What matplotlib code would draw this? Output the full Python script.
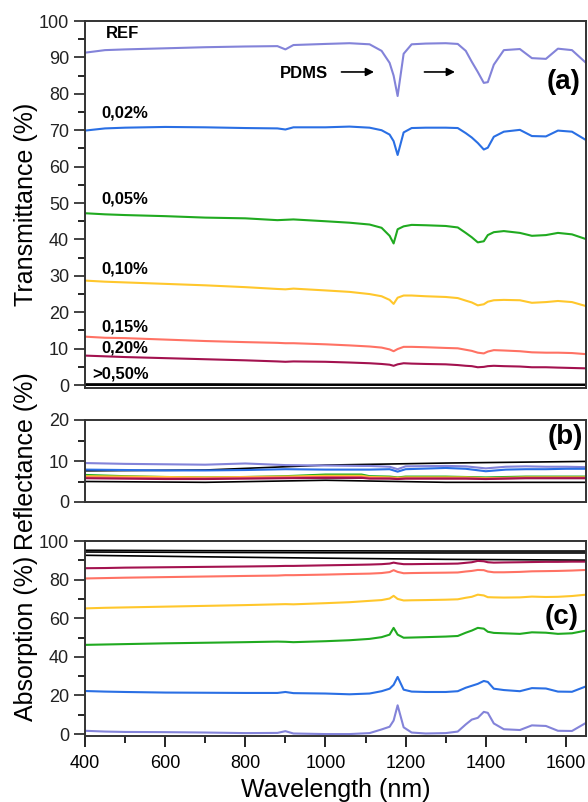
import numpy as np
import matplotlib
matplotlib.use("Agg")
import matplotlib.pyplot as plt
from matplotlib.ticker import MultipleLocator

plt.rcParams['font.family'] = ['Liberation Sans', 'DejaVu Sans']

# wavelength grid (nm) for the coloured spectra
wl = [400, 450, 500, 600, 700, 800, 880, 900, 920, 1000, 1060, 1110, 1140, 1160,
      1170, 1180, 1195, 1215, 1250, 1300, 1330, 1350, 1365, 1380, 1395, 1405,
      1420, 1445, 1485, 1515, 1550, 1580, 1615, 1650]

# --- transmittance (%) ---
trans_ref = [91.3, 92.0, 92.2, 92.5, 92.8, 93.0, 93.1, 92.2, 93.4, 93.7, 93.9, 93.6, 91.8, 88.5,
             85.0, 79.4, 91.0, 93.6, 93.8, 93.9, 93.7, 91.8, 88.8, 86.0, 83.0, 83.2,
             88.0, 92.0, 92.3, 89.8, 89.6, 92.4, 92.0, 88.5]
trans_002 = [69.9, 70.5, 70.7, 70.9, 70.8, 70.6, 70.5, 70.2, 70.8, 70.8, 71.0, 70.7, 70.0, 68.8,
             67.0, 63.2, 69.4, 70.6, 70.7, 70.7, 70.6, 69.2, 68.0, 66.5, 64.7, 65.2,
             68.2, 69.6, 70.1, 68.4, 68.3, 69.9, 69.6, 67.3]
trans_005 = [47.2, 46.9, 46.7, 46.4, 46.0, 45.8, 45.3, 45.4, 45.5, 45.0, 44.6, 44.1, 43.2, 41.0,
             38.9, 42.8, 43.6, 44.0, 43.9, 43.7, 43.3, 41.8, 40.6, 39.2, 39.5, 41.2,
             42.0, 42.3, 41.8, 41.0, 41.2, 41.8, 41.4, 40.1]
trans_010 = [28.7, 28.4, 28.2, 27.8, 27.4, 26.9, 26.4, 26.3, 26.5, 26.0, 25.6, 25.0, 24.4, 23.4,
             22.3, 24.0, 24.6, 24.6, 24.4, 24.2, 23.9, 23.2, 22.7, 21.9, 22.2, 22.9,
             23.3, 23.4, 23.3, 22.6, 22.8, 23.1, 22.8, 21.7]
trans_015 = [13.3, 13.0, 12.9, 12.5, 12.1, 11.8, 11.6, 11.5, 11.5, 11.2, 10.9, 10.6, 10.3, 9.8,
             9.3, 9.9, 10.5, 10.5, 10.4, 10.2, 10.1, 9.7, 9.4, 8.9, 8.7, 9.2,
             9.6, 9.5, 9.3, 9.0, 8.9, 8.9, 8.8, 8.5]
trans_020 = [8.1, 7.9, 7.7, 7.4, 7.1, 6.8, 6.5, 6.4, 6.5, 6.4, 6.2, 6.0, 5.8, 5.6,
             5.3, 5.7, 6.0, 5.9, 5.8, 5.7, 5.5, 5.3, 5.2, 4.9, 5.0, 5.2,
             5.3, 5.2, 5.1, 4.9, 4.9, 4.8, 4.7, 4.6]

# --- absorption (%) ---
abs_ref = [1.7, 1.3, 1.1, 1.0, 0.8, 0.5, 0.6, 1.5, 0.3, 0.0, 0.0, 0.5, 2.4, 3.8,
           7.0, 14.9, 3.5, 0.8, 0.3, 0.5, 1.3, 5.0, 7.5, 8.4, 11.5, 11.0,
           5.5, 2.5, 2.1, 4.5, 4.2, 1.7, 1.6, 5.8]
abs_002 = [22.3, 22.0, 21.8, 21.5, 21.4, 21.3, 21.3, 21.8, 21.2, 21.0, 20.6, 21.0, 22.2, 23.5,
           25.5, 29.6, 23.0, 22.0, 21.8, 21.8, 22.2, 24.0, 25.0, 26.0, 27.5, 27.0,
           23.5, 22.8, 22.2, 23.8, 23.6, 22.0, 21.9, 24.7]
abs_005 = [46.2, 46.4, 46.6, 47.0, 47.3, 47.6, 47.9, 47.8, 47.6, 48.1, 48.6, 49.3, 50.2, 51.5,
           55.0, 51.5, 49.9, 50.0, 50.2, 50.5, 50.8, 52.5, 53.6, 55.0, 54.6, 53.0,
           52.4, 52.2, 51.9, 52.7, 52.5, 51.9, 52.2, 53.6]
abs_010 = [65.1, 65.4, 65.6, 66.0, 66.4, 66.8, 67.2, 67.3, 67.2, 67.8, 68.3, 69.0, 69.4, 70.2,
           71.6, 70.0, 69.2, 69.3, 69.4, 69.6, 69.8, 70.6, 71.1, 72.2, 71.8, 70.9,
           70.8, 70.7, 70.8, 71.2, 71.0, 71.1, 71.5, 72.2]
abs_015 = [80.6, 80.8, 81.0, 81.3, 81.6, 81.9, 82.1, 82.3, 82.3, 82.6, 82.9, 83.1, 83.4, 83.9,
           84.9, 84.0, 83.3, 83.4, 83.5, 83.6, 83.7, 84.2, 84.5, 85.0, 84.9, 84.2,
           83.8, 83.8, 84.0, 84.3, 84.4, 84.5, 84.7, 85.0]
abs_020 = [85.9, 86.0, 86.2, 86.4, 86.6, 86.8, 87.0, 87.1, 87.1, 87.4, 87.6, 87.8, 88.0, 88.3,
           88.8, 88.4, 88.0, 88.0, 88.1, 88.2, 88.3, 88.7, 89.0, 89.7, 89.5, 89.0,
           88.8, 88.9, 89.0, 89.1, 89.2, 89.2, 89.3, 89.3]

# --- reflectance (%) on a coarser grid ---
wl_r = [400, 500, 600, 700, 800, 900, 1000, 1090, 1110, 1160, 1180, 1200, 1300, 1350,
        1400, 1450, 1500, 1550, 1600, 1650]
refl_ref = [9.5, 9.3, 9.2, 9.1, 9.4, 9.0, 8.9, 8.8, 8.8, 8.6, 8.0, 8.7, 8.8, 8.7,
            8.2, 8.6, 8.7, 8.6, 8.6, 8.5]
refl_002 = [7.9, 7.8, 7.7, 7.7, 7.8, 8.0, 7.9, 7.9, 7.9, 8.0, 7.4, 8.0, 8.3, 8.1,
            7.5, 7.9, 8.0, 8.0, 8.1, 8.1]
refl_005 = [6.6, 6.3, 6.1, 6.0, 6.1, 6.3, 6.7, 6.7, 6.3, 6.2, 6.0, 6.2, 6.2, 6.1,
            6.0, 6.1, 6.2, 6.2, 6.2, 6.2]
refl_010 = [6.3, 6.2, 6.1, 6.0, 6.1, 6.2, 6.4, 6.4, 6.1, 6.0, 5.9, 6.0, 6.0, 6.0,
            5.8, 5.9, 6.0, 6.0, 6.0, 6.0]
refl_015 = [6.0, 5.9, 5.8, 5.8, 5.9, 6.0, 6.1, 6.1, 5.9, 5.8, 5.7, 5.8, 5.8, 5.8,
            5.7, 5.8, 5.9, 5.9, 5.9, 5.9]
refl_020 = [5.8, 5.7, 5.6, 5.6, 5.7, 5.8, 5.9, 5.9, 5.7, 5.7, 5.6, 5.7, 5.7, 5.7,
            5.6, 5.7, 5.8, 5.8, 5.8, 5.8]

# --- opaque samples (>0,50 %), black lines ---
wl_k = [400, 700, 1000, 1300, 1650]
trans_k = [[0.3, 0.3, 0.2, 0.2, 0.2], [0.1, 0.1, 0.1, 0.1, 0.1], [0.0, 0.0, 0.0, 0.0, 0.0]]
refl_k = [[7.6, 7.8, 9.0, 9.5, 9.9], [6.0, 5.9, 5.9, 5.8, 5.8], [5.0, 4.8, 5.3, 4.8, 4.8]]
abs_k = [[92.6, 91.8, 91.1, 90.5, 90.1], [94.3, 94.1, 93.9, 93.8, 93.8], [95.2, 95.0, 94.9, 94.8, 94.8]]

labels = ["REF", "0,02%", "0,05%", "0,10%", "0,15%", "0,20%"]
colors = ["#8383d9", "#2a6fe4", "#20aa20", "#ffc72c", "#ff7264", "#a3124f"]
label_y = [96.7, 74.7, 51.1, 31.9, 15.9, 10.2]

trans = [trans_ref, trans_002, trans_005, trans_010, trans_015, trans_020]
refl = [refl_ref, refl_002, refl_005, refl_010, refl_015, refl_020]
absn = [abs_ref, abs_002, abs_005, abs_010, abs_015, abs_020]

fig = plt.figure(figsize=(5.88, 8.02), dpi=100)
W, H = 588, 802
ax_t = fig.add_axes([85 / W, 1 - 388 / H, 501 / W, (388 - 21) / H])
ax_r = fig.add_axes([85 / W, 1 - 502 / H, 501 / W, (502 - 420) / H])
ax_a = fig.add_axes([85 / W, 1 - 736 / H, 501 / W, (736 - 541) / H])

lw = 1.5
for k in range(3):
    ax_t.plot(wl_k, trans_k[k], color="black", lw=1.2)
    ax_r.plot(wl_k, refl_k[k], color="black", lw=1.2)
    ax_a.plot(wl_k, abs_k[k], color="black", lw=1.2)

for i in range(6):
    ax_t.plot(wl, trans[i], color=colors[i], lw=lw)
    ax_r.plot(wl_r, refl[i], color=colors[i], lw=lw)
    ax_a.plot(wl, absn[i], color=colors[i], lw=lw)

# sample labels
for i in range(6):
    x0 = 451 if i == 0 else 441
    ax_t.text(x0, label_y[i], labels[i], fontsize=12, fontweight="bold", va="center", ha="left")
ax_t.text(419, 3.0, ">0,50%", fontsize=12, fontweight="bold", va="center", ha="left")

ax_t.text(946, 85.7, "PDMS", fontsize=12, fontweight="bold", va="center", ha="center")
for x_start, x_end in [(1033, 1128), (1240, 1330)]:
    ax_t.annotate("", xy=(x_end, 86), xytext=(x_start, 86),
                  arrowprops=dict(arrowstyle="-|>", color="black", lw=1.2, mutation_scale=12))

ax_t.text(0.99, 0.835, "(a)", transform=ax_t.transAxes, fontsize=20, fontweight="bold",
          ha="right", va="center")
ax_r.text(0.995, 0.79, "(b)", transform=ax_r.transAxes, fontsize=20, fontweight="bold",
          ha="right", va="center")
ax_a.text(0.985, 0.61, "(c)", transform=ax_a.transAxes, fontsize=20, fontweight="bold",
          ha="right", va="center")

ax_t.set_ylim(-0.8, 100)
ax_r.set_ylim(0, 20)
ax_a.set_ylim(-1, 100)
ax_t.yaxis.set_major_locator(MultipleLocator(10))
ax_t.yaxis.set_minor_locator(MultipleLocator(5))
ax_r.yaxis.set_major_locator(MultipleLocator(10))
ax_r.yaxis.set_minor_locator(MultipleLocator(5))
ax_a.yaxis.set_major_locator(MultipleLocator(20))
ax_a.yaxis.set_minor_locator(MultipleLocator(10))

ax_t.set_ylabel("Transmittance (%)", fontsize=18)
ax_r.set_ylabel("Reflectance (%)", fontsize=18)
ax_a.set_ylabel("Absorption (%)", fontsize=18)
ax_a.set_xlabel("Wavelength (nm)", fontsize=18, labelpad=4)

for ax in (ax_t, ax_r, ax_a):
    ax.set_xlim(400, 1650)
    ax.xaxis.set_major_locator(MultipleLocator(200))
    ax.xaxis.set_minor_locator(MultipleLocator(100))
    ax.yaxis.set_label_coords(-0.094, 0.5)
    for s in ax.spines.values():
        s.set_color("#333333")
        s.set_linewidth(1.4)
    ax.tick_params(axis="y", which="major", direction="out", length=8, width=1.2,
                   labelsize=13, colors="#222222", right=False)
    ax.tick_params(axis="y", which="minor", direction="out", length=5, width=1.2, right=False)
    ax.tick_params(axis="x", which="both", top=False)
    if ax is not ax_a:
        ax.tick_params(axis="x", which="both", bottom=False, labelbottom=False)
ax_a.tick_params(axis="x", which="major", direction="out", length=8, width=1.2, labelsize=13,
                 pad=6)
ax_a.tick_params(axis="x", which="minor", direction="out", length=5, width=1.2)

fig.savefig("out.png", dpi=100)
